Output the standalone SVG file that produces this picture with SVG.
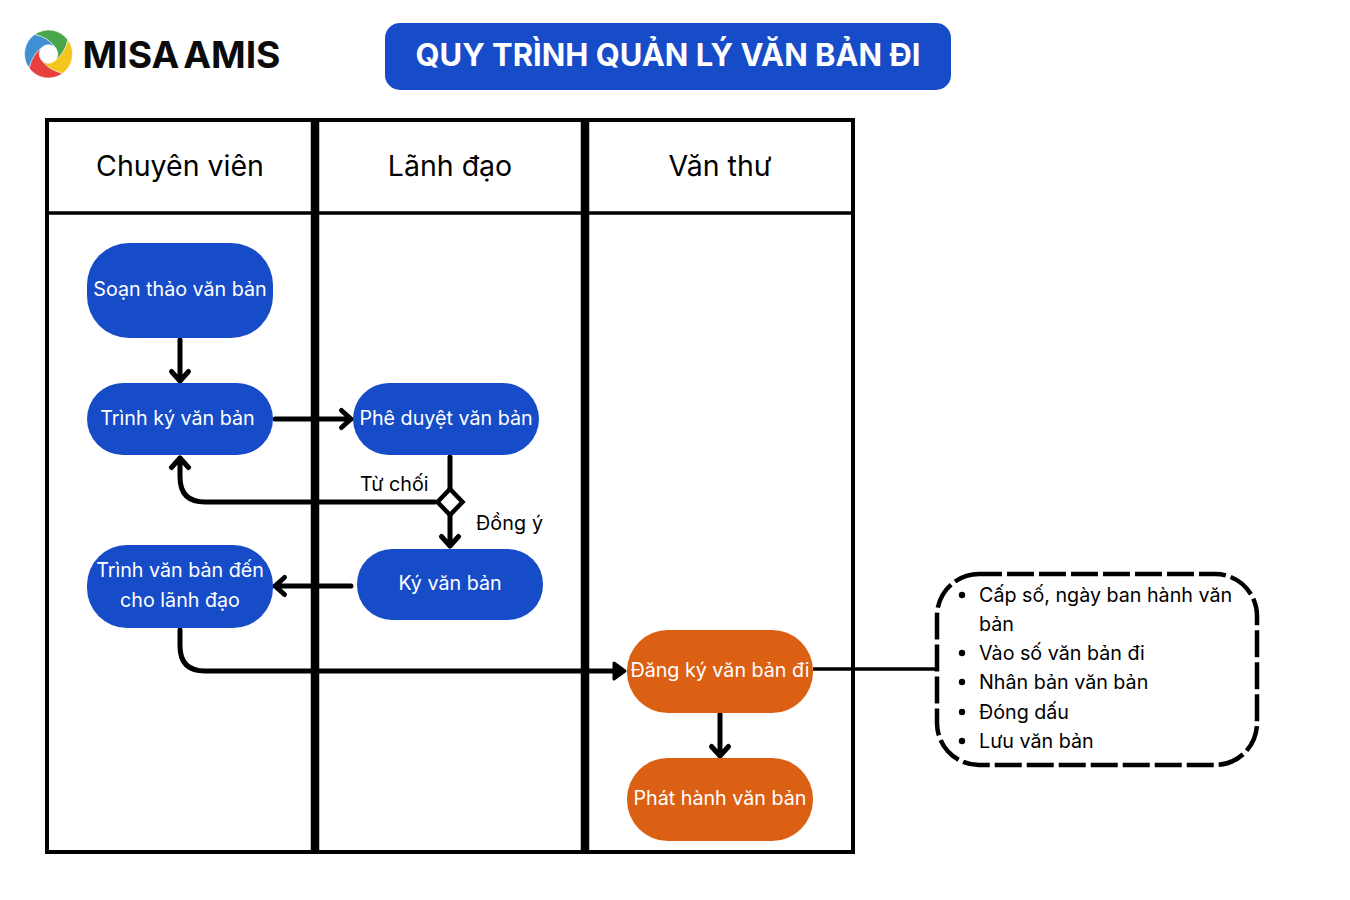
<svg xmlns="http://www.w3.org/2000/svg" width="1350" height="900" viewBox="0 0 1350 900">
<style>
text{font-family:"Inter","Noto Sans","Liberation Sans",sans-serif}
.n{fill:#fff;font-size:19.7px;text-anchor:middle}
.h{fill:#000;font-size:28.5px;text-anchor:middle}
.b{fill:#174cc9}
.o{fill:#dc6014}
.l{fill:#000;font-size:19.7px}
.a{fill:none;stroke:#000;stroke-width:5;stroke-linecap:round;stroke-linejoin:round}
.s{stroke:#fff;stroke-width:.6}
</style>
<defs>
<path id="blade" d="M-14,-19.5A24,24 0 0 1 19.5,-14Q17,0 5.500,7.500A9.300,9.300 0 0 0 7.500,-5.500Q0,-16 -14,-19.5Z"/>
</defs>
<rect width="1350" height="900" fill="#fff"/>
<g id="logo">
<g transform="translate(48.5 54)">
<use href="#blade" class="s" fill="#4aa64a"/>
<use href="#blade" class="s" fill="#f4c51c" transform="rotate(90)"/>
<use href="#blade" class="s" fill="#e7403f" transform="rotate(180)"/>
<use href="#blade" class="s" fill="#3f8fd2" transform="rotate(270)"/>
</g>
<text x="82.500" y="68" font-size="37.5" font-weight="700" fill="#0b0b0b" word-spacing="-5" textLength="198" lengthAdjust="spacingAndGlyphs">MISA AMIS</text>
</g>
<g id="title">
<rect x="385" y="23" width="566" height="67" rx="15" class="b"/>
<text x="668" y="66" text-anchor="middle" font-size="31" font-weight="700" fill="#fff" textLength="505" lengthAdjust="spacingAndGlyphs">QUY TRÌNH QUẢN LÝ VĂN BẢN ĐI</text>
</g>
<g id="swimlanes" fill="none" stroke="#000">
<rect x="47" y="120" width="806" height="732" stroke-width="4"/>
<path d="M47 213H853" stroke-width="3.5"/>
<path d="M315 120V852M585 120V852" stroke-width="8.5"/>
<text class="h" x="180" y="176" stroke="none">Chuyên viên</text>
<text class="h" x="450" y="176" stroke="none">Lãnh đạo</text>
<text class="h" x="720" y="176" stroke="none">Văn thư</text>
</g>
<g id="connectors">
<path class="a" d="M180 340V381M171.500 371.500L180 381L188.500 371.500"/>
<path class="a" d="M275 419H351M341.500 410.500L351 419L341.500 427.500"/>
<path class="a" d="M450 457V546M441.500 536.500L450 546L458.500 536.500"/>
<path class="a" d="M435 502H205Q180 502 180 477V458M171.500 467.500L180 458L188.500 467.500"/>
<path class="a" d="M351 586H275M284.500 577.500L275 586L284.500 594.500"/>
<path class="a" d="M180 630V646Q180 671 205 671H616"/>
<path d="M614 663L625 671L614 679Z" fill="#000" stroke="#000" stroke-width="3" stroke-linejoin="round"/>
<path class="a" d="M720 714V756M711.500 746.500L720 756L728.500 746.500"/>
<path d="M813 669H937" stroke="#000" stroke-width="3.5"/>
<path d="M450 489L462.500 502L450 515L437.500 502Z" fill="#fff" stroke="#000" stroke-width="4.5"/>
<text class="l" x="360" y="491">Từ chối</text>
<text class="l" x="476" y="530" textLength="67">Đồng ý</text>
</g>
<g id="n1"><rect x="87" y="243" width="186" height="95" rx="42" class="b"/><text class="n" x="180" y="296">Soạn thảo văn bản</text></g>
<g id="n2"><rect x="87" y="383" width="186" height="72" rx="36" class="b"/><text class="n" x="177.500" y="425">Trình ký văn bản</text></g>
<g id="n3"><rect x="353" y="383" width="186" height="72" rx="36" class="b"/><text class="n" x="446" y="425">Phê duyệt văn bản</text></g>
<g id="n4"><rect x="357" y="549" width="186" height="71" rx="35" class="b"/><text class="n" x="450" y="590">Ký văn bản</text></g>
<g id="n5"><rect x="87" y="545" width="186" height="83" rx="40" class="b"/><text class="n" x="180" y="577">Trình văn bản đến</text><text class="n" x="180" y="607">cho lãnh đạo</text></g>
<g id="n6"><rect x="627" y="630" width="186" height="83" rx="41" class="o"/><text class="n" x="720" y="677">Đăng ký văn bản đi</text></g>
<g id="n7"><rect x="627" y="758" width="186" height="83" rx="41" class="o"/><text class="n" x="720" y="805">Phát hành văn bản</text></g>
<g id="note">
<rect x="937" y="574" width="320" height="191" rx="42" fill="#fff" stroke="#000" stroke-width="4.5" stroke-dasharray="27 5" stroke-dashoffset="4"/>
<g fill="#000"><circle cx="962" cy="595" r="3.2"/><circle cx="962" cy="653" r="3.2"/><circle cx="962" cy="682" r="3.2"/><circle cx="962" cy="712" r="3.2"/><circle cx="962" cy="741" r="3.2"/></g>
<text class="l" x="979" y="602">Cấp số, ngày ban hành văn</text>
<text class="l" x="979" y="631">bản</text>
<text class="l" x="979" y="660">Vào số văn bản đi</text>
<text class="l" x="979" y="689">Nhân bản văn bản</text>
<text class="l" x="979" y="719">Đóng dấu</text>
<text class="l" x="979" y="748">Lưu văn bản</text>
</g>
</svg>
